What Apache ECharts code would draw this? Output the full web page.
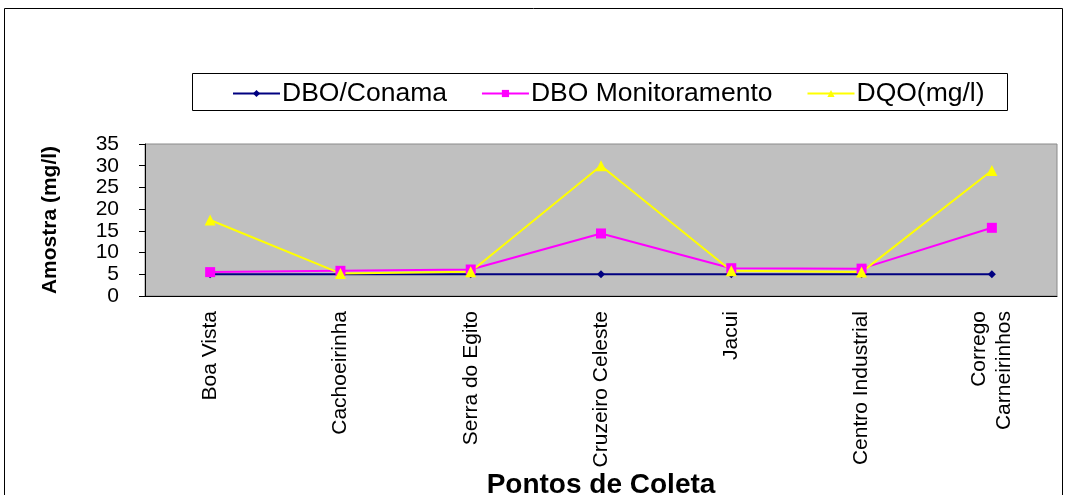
<!DOCTYPE html>
<html>
<head>
<meta charset="utf-8">
<script src="https://cdn.jsdelivr.net/npm/echarts@6/dist/echarts.min.js"></script>
<style>
  html, body { margin: 0; padding: 0; background: #fff; }
  #chart { width: 1065px; height: 495px; }
</style>
</head>
<body>
<div id="chart"></div>
<script>
// pontos de coleta
var pontos = ['Boa Vista', 'Cachoeirinha', 'Serra do Egito', 'Cruzeiro Celeste', 'Jacui', 'Centro Industrial', 'Corrego\nCarneirinhos'];
var dboConama = [5, 5, 5, 5, 5, 5, 5];
var dboMonitoramento = [5.5, 5.8, 6.1, 14.4, 6.4, 6.3, 15.7];
var dqo = [17.5, 5.2, 5.6, 30, 5.8, 5.5, 28.9];

var fonte = 'Liberation Sans, Arial, sans-serif';

var myChart = echarts.init(document.getElementById('chart'));
var option = {
    animation: false,
    textStyle: { fontFamily: fonte, color: '#000' },
    graphic: [
        { type: 'rect', shape: { x: 4.5, y: 8.5, width: 1058, height: 500 },
          style: { fill: 'none', stroke: '#000', lineWidth: 1 }, silent: true },
        { type: 'rect', shape: { x: 192.5, y: 73.5, width: 815, height: 37 },
          style: { fill: '#fff', stroke: '#000', lineWidth: 1 }, silent: true, z: -1 }
    ],
    legend: {
        left: 227,
        top: 75,
        itemWidth: 47,
        itemHeight: 9,
        itemGap: 34,
        textStyle: { fontFamily: fonte, fontSize: 26.5, color: '#000', padding: [0, 0, 0, -3] },
        data: ['DBO/Conama', 'DBO Monitoramento', 'DQO(mg/l)']
    },
    grid: {
        left: 145, right: 8, top: 144, bottom: 199,
        outerBoundsMode: 'none',
        containLabel: false,
        show: true,
        backgroundColor: '#C0C0C0',
        borderColor: '#8a8a8a',
        borderWidth: 1
    },
    xAxis: {
        type: 'category',
        data: pontos,
        name: 'Pontos de Coleta',
        nameLocation: 'middle',
        nameGap: 175,
        nameTextStyle: { fontFamily: fonte, fontSize: 28, fontWeight: 'bold', color: '#000' },
        axisLine: { lineStyle: { color: '#000', width: 1 } },
        axisTick: { length: 6, lineStyle: { color: '#000' } },
        axisLabel: { rotate: 90, margin: 15, fontSize: 21, color: '#000', fontFamily: fonte, lineHeight: 25, interval: 0 }
    },
    yAxis: {
        type: 'value',
        min: 0, max: 35, interval: 5,
        name: 'Amostra (mg/l)',
        nameLocation: 'middle',
        nameGap: 84,
        nameTextStyle: { fontFamily: fonte, fontSize: 21, fontWeight: 'bold', color: '#000' },
        axisLine: { show: true, lineStyle: { color: '#000', width: 1 } },
        axisTick: { show: true, length: 6, lineStyle: { color: '#000' } },
        axisLabel: { fontSize: 21, color: '#000', fontFamily: fonte, margin: 26, showMinLabel: true, showMaxLabel: true },
        splitLine: { show: false }
    },
    series: [
        { name: 'DBO/Conama', type: 'line', data: dboConama,
          symbol: 'diamond', symbolSize: 8,
          lineStyle: { color: '#000080', width: 2 },
          itemStyle: { color: '#000080' } },
        { name: 'DBO Monitoramento', type: 'line', data: dboMonitoramento,
          symbol: 'rect', symbolSize: 10,
          lineStyle: { color: '#FF00FF', width: 2 },
          itemStyle: { color: '#FF00FF' } },
        { name: 'DQO(mg/l)', type: 'line', data: dqo,
          symbol: 'triangle', symbolSize: 11,
          lineStyle: { color: '#FFFF00', width: 2 },
          itemStyle: { color: '#FFFF00' } }
    ]
};
myChart.setOption(option);
</script>
</body>
</html>
